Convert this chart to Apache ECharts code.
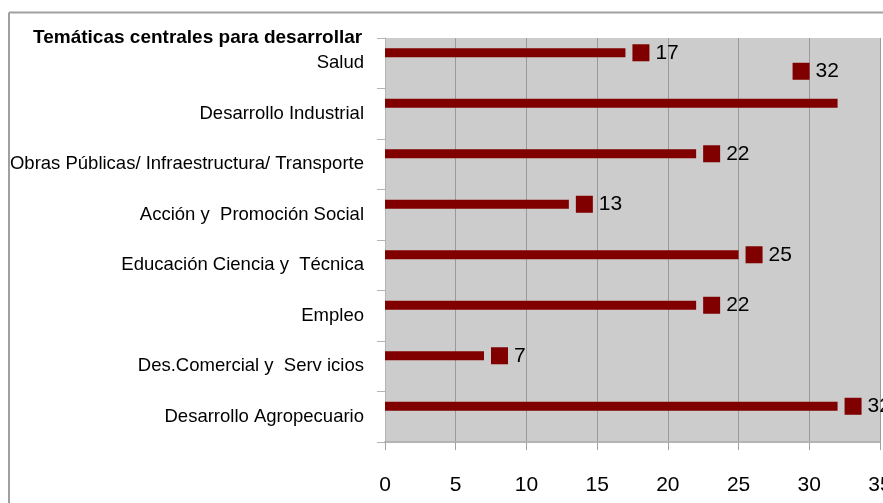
<!DOCTYPE html>
<html>
<head>
<meta charset="utf-8">
<script src="https://cdn.jsdelivr.net/npm/echarts@6/dist/echarts.min.js"></script>
<style>
  html, body { margin: 0; padding: 0; background: #fff; }
  #chart { width: 883px; height: 503px; }
</style>
</head>
<body>
<div id="chart"></div>
<script>
// categories, top to bottom as drawn
var categories = [
  'Salud',
  'Desarrollo Industrial',
  'Obras Públicas/ Infraestructura/ Transporte',
  'Acción y  Promoción Social',
  'Educación Ciencia y  Técnica',
  'Empleo',
  'Des.Comercial y  Serv icios',
  'Desarrollo Agropecuario'
];
var values = [17, 32, 22, 13, 25, 22, 7, 32];
var xTicks = [0, 35, 5]; // min, max, interval

var font = "'Liberation Sans', Arial, sans-serif";
var barColor = '#800000';

var chart = echarts.init(document.getElementById('chart'));

var labelRich = {
  m: { width: 17, height: 17, backgroundColor: barColor },
  v: { fontFamily: font, fontSize: 21, color: '#000', padding: [0, 0, 0, 6] }
};

var seriesData = [];
for (var i = 0; i < values.length; i++) {
  var item = { value: values[i] };
  // excel moved this one label up-left so it would not run off the plot
  if (categories[i] == 'Desarrollo Industrial') {
    item.label = { offset: [-52, -32] };
  }
  seriesData.push(item);
}

var option = {
  animation: false,
  title: {
    text: 'Temáticas centrales para desarrollar',
    left: 33,
    top: 28,
    padding: 0,
    textStyle: { fontFamily: font, fontSize: 19, fontWeight: 'bold', color: '#000' }
  },
  grid: {
    left: 385,
    top: 38,
    right: 3,
    bottom: 61,
    outerBoundsMode: 'none',
    containLabel: false,
    show: true,
    backgroundColor: '#cccccc',
    borderWidth: 0
  },
  xAxis: {
    type: 'value',
    min: xTicks[0],
    max: xTicks[1],
    interval: xTicks[2],
    axisLine: { show: true, lineStyle: { color: '#b4b4b4', width: 2 } },
    axisTick: { show: true, length: 8, lineStyle: { color: '#a0a0a0' } },
    splitLine: { show: true, lineStyle: { color: '#9a9a9a', width: 1 } },
    axisLabel: { fontFamily: font, fontSize: 21, color: '#000', margin: 33 }
  },
  yAxis: {
    type: 'category',
    data: categories,
    inverse: true,
    axisLine: { show: true, lineStyle: { color: '#b4b4b4', width: 1 } },
    axisTick: { show: true, length: 8, lineStyle: { color: '#b4b4b4' } },
    axisLabel: { fontFamily: font, fontSize: 18.5, color: '#000', margin: 21 }
  },
  series: [
    {
      type: 'bar',
      data: seriesData,
      barWidth: 9,
      barGap: '133%',
      itemStyle: { color: barColor },
      label: {
        show: true,
        position: 'right',
        distance: 7,
        formatter: '{m|}{v|{c}}',
        rich: labelRich
      }
    },
    {
      // empty second slot, pushes the real bars up in each band
      type: 'bar',
      data: values.map(function () { return null; }),
      barWidth: 9,
      silent: true
    }
  ],
  graphic: [
    { type: 'line', shape: { x1: 9, y1: 12.5, x2: 883, y2: 12.5 }, style: { stroke: '#a0a0a0', lineWidth: 2 } },
    { type: 'line', shape: { x1: 9, y1: 12.5, x2: 9, y2: 503 }, style: { stroke: '#a0a0a0', lineWidth: 2 } }
  ]
};

chart.setOption(option);
</script>
</body>
</html>
